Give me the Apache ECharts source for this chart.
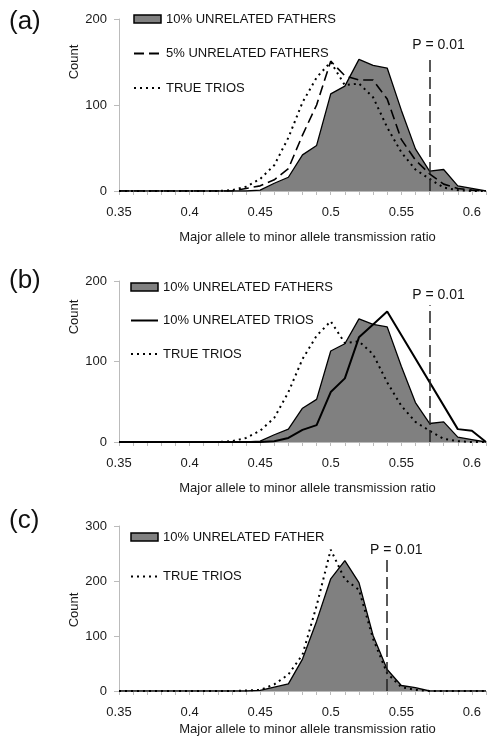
<!DOCTYPE html>
<html>
<head>
<meta charset="utf-8">
<script src="https://cdn.jsdelivr.net/npm/echarts@6/dist/echarts.min.js"></script>
<style>
  html, body { margin: 0; padding: 0; background: #fff; }
  #chart { width: 489px; height: 745px; }
</style>
</head>
<body>
<div id="chart"></div>
<script>
// bins of the transmission ratio
const ratioBins = [0.35, 0.36, 0.37, 0.38, 0.39, 0.40, 0.41, 0.42, 0.43, 0.44, 0.45, 0.46, 0.47, 0.48,
  0.49, 0.50, 0.51, 0.52, 0.53, 0.54, 0.55, 0.56, 0.57, 0.58, 0.59, 0.60, 0.61];
const xTickLabels = ['0.35', '0.4', '0.45', '0.5', '0.55', '0.6'];

// panel (a) and (b)
const fathers10 = [0, 0, 0, 0, 0, 0, 0, 0, 0, 0, 1, 9, 16, 42, 53, 113, 122, 153, 146, 143, 94, 49, 23, 25, 6, 3, 0];
const fathers5 = [0, 0, 0, 0, 0, 0, 0, 0, 0, 3, 6, 13, 26, 65, 100, 151, 134, 129, 129, 107, 60, 36, 20, 8, 3, 1, 0];
const trueTrios = [0, 0, 0, 0, 0, 0, 0, 0, 1, 5, 14, 30, 62, 103, 132, 150, 123, 125, 109, 74, 45, 25, 14, 4, 1, 0, 0];
const trios10 = [0, 0, 0, 0, 0, 0, 0, 0, 0, 0, 0, 1, 5, 15, 21, 62, 79, 130, 146, 162, null, null, null, null, 16, 14, 0];

// panel (c)
const fatherC = [0, 0, 0, 0, 0, 0, 0, 0, 0, 0, 1, 7, 13, 58, 127, 204, 237, 197, 101, 39, 10, 6, 0, 0, 0, 0, 0];
const trueTriosC = [0, 0, 0, 0, 0, 0, 0, 0, 0, 1, 2, 12, 30, 66, 155, 257, 203, 184, 95, 32, 7, 2, 0, 0, 0, 0, 0];

// P = 0.01 cut-offs
const pCut = [0.57, 0.57, 0.54];
const pTop = [158, 170, 238];
const yMax = [200, 200, 300];

const FONT = '"Liberation Sans", Arial, sans-serif';
const chart = echarts.init(document.getElementById('chart'));

function pairs(vals) {
    return ratioBins.map((x, i) => [x, vals[i]]);
}

function fillSeries(name, vals, gi) {
    return {
        name, type: 'line', xAxisIndex: gi, yAxisIndex: gi, data: pairs(vals),
        symbol: 'none', z: 2,
        itemStyle: { color: '#808080' },
        lineStyle: { color: '#000', width: 1.3 },
        areaStyle: { color: '#808080', opacity: 1 },
        markLine: {
            silent: true, symbol: ['none', 'none'], animation: false,
            lineStyle: { color: '#222', type: [12, 5], width: 1.5 },
            label: {
                show: true, position: 'end', formatter: 'P = 0.01', color: '#111',
                fontSize: 14, fontFamily: FONT, distance: 3, padding: [0, 0, 0, 18]
            },
            data: [[{ coord: [pCut[gi], 0] }, { coord: [pCut[gi], pTop[gi]] }]]
        }
    };
}

function lineSeries(name, vals, gi, dash, width) {
    return {
        name, type: 'line', xAxisIndex: gi, yAxisIndex: gi, data: pairs(vals),
        symbol: 'none', z: 3, connectNulls: true,
        itemStyle: { color: '#000' },
        lineStyle: { color: '#000', width, type: dash }
    };
}

const grids = [
    { left: 119, top: 19, width: 368, height: 172 },
    { left: 119, top: 281, width: 368, height: 161 },
    { left: 119, top: 526, width: 368, height: 165 }
];
const nameGaps = [40, 40, 32];

const xAxes = grids.map((g, i) => ({
    type: 'value', gridIndex: i, min: 0.35, max: 0.61, interval: 0.01,
    name: 'Major allele to minor allele transmission ratio',
    nameLocation: 'middle', nameGap: nameGaps[i],
    nameTextStyle: { color: '#1a1a1a', fontSize: 13, fontFamily: FONT, padding: [0, 0, 0, 10] },
    axisLine: { show: true, lineStyle: { color: '#bbb', width: 1 } },
    axisTick: { show: true, length: 4, lineStyle: { color: '#bbb' } },
    splitLine: { show: false },
    axisLabel: {
        color: '#1a1a1a', fontSize: 13, fontFamily: FONT, margin: 15,
        showMaxLabel: true, showMinLabel: true,
        formatter: v => {
            const s = String(+v.toFixed(2));
            return xTickLabels.indexOf(s) >= 0 ? s : '';
        }
    }
}));

const yAxes = grids.map((g, i) => ({
    type: 'value', gridIndex: i, min: 0, max: yMax[i], interval: 100,
    axisLine: { show: true, lineStyle: { color: '#bbb', width: 1 } },
    axisTick: { show: true, length: 5, lineStyle: { color: '#bbb' } },
    splitLine: { show: false },
    axisLabel: { color: '#1a1a1a', fontSize: 13, fontFamily: FONT, margin: 12 }
}));

const legendBase = {
    orient: 'vertical', selectedMode: false, padding: 0,
    itemWidth: 27, itemHeight: 8, itemTextGap: 3,
    textStyle: { color: '#111', fontSize: 13, fontFamily: FONT, lineHeight: 14 }
};
const rectItem = name => ({
    name, icon: 'rect', itemStyle: { color: '#808080', borderColor: '#000', borderWidth: 1.5, opacity: 1 }
});
// line entries: keep the line, hide the marker
const lineItem = name => ({ name, itemStyle: { opacity: 0 } });

const panelTags = [['(a)', 24], ['(b)', 283], ['(c)', 523]];
const countPos = [62, 317, 610];

const option = {
    animation: false,
    backgroundColor: '#fff',
    grid: grids,
    xAxis: xAxes,
    yAxis: yAxes,
    legend: [
        Object.assign({}, legendBase, { left: 133, top: 12, itemGap: 20.5,
            data: [rectItem('10% UNRELATED FATHERS'), lineItem('5% UNRELATED FATHERS'), lineItem('TRUE TRIOS')] }),
        Object.assign({}, legendBase, { left: 130, top: 280, itemGap: 19.5,
            data: [rectItem('10% UNRELATED FATHERS'), lineItem('10% UNRELATED TRIOS'), lineItem('TRUE TRIOS')] }),
        Object.assign({}, legendBase, { left: 130, top: 530, itemGap: 25.4,
            data: [rectItem('10% UNRELATED FATHER'), lineItem('TRUE TRIOS')] })
    ],
    graphic: panelTags.map(([t, y]) => ({
        type: 'text', left: 9, top: y - 15,
        style: { text: t, fontSize: 26, fontFamily: FONT, fill: '#111' }
    })).concat(countPos.map(y => ({
        type: 'text', x: 74, y: y, rotation: Math.PI / 2,
        style: { text: 'Count', fontSize: 13, fontFamily: FONT, fill: '#1a1a1a', align: 'center', verticalAlign: 'middle' }
    }))),
    series: [
        fillSeries('10% UNRELATED FATHERS', fathers10, 0),
        lineSeries('5% UNRELATED FATHERS', fathers5, 0, [10, 5], 1.6),
        lineSeries('TRUE TRIOS', trueTrios, 0, [2, 4], 2),

        fillSeries('10% UNRELATED FATHERS', fathers10, 1),
        lineSeries('10% UNRELATED TRIOS', trios10, 1, 'solid', 2),
        lineSeries('TRUE TRIOS', trueTrios, 1, [2, 4], 2),

        fillSeries('10% UNRELATED FATHER', fatherC, 2),
        lineSeries('TRUE TRIOS', trueTriosC, 2, [2, 4], 2)
    ]
};
chart.setOption(option);
</script>
</body>
</html>
